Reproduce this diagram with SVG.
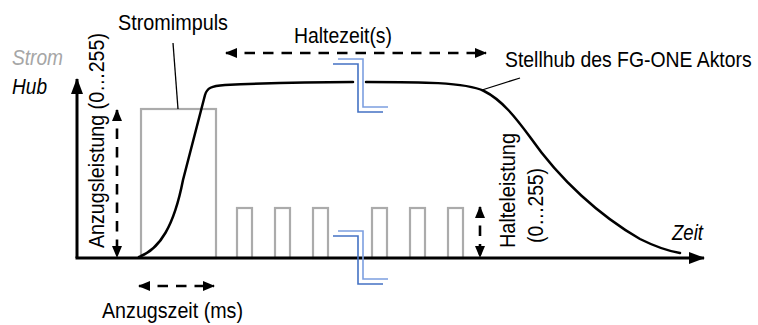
<svg xmlns="http://www.w3.org/2000/svg" width="758" height="325" viewBox="0 0 758 325">
<style>
text{font-family:"Liberation Sans",Arial,sans-serif;font-size:22px;fill:#000}
.it{font-style:italic}
.gray{fill:#a6a6a6}
.axis{stroke:#000;stroke-width:3;fill:none}
.curve{stroke:#000;stroke-width:2.5;fill:none;stroke-linecap:round}
.pulse{stroke:#ababab;stroke-width:2.2;fill:none}
.dash{stroke:#000;stroke-width:2.6;fill:none;stroke-dasharray:10.5 8}
.lead{stroke:#000;stroke-width:1.3;fill:none}
.brA{stroke:#7c9fe0;stroke-width:1.6;fill:none}
.brB{stroke:#4472c4;stroke-width:1.6;fill:none}
</style>
<defs>
<marker id="ah" viewBox="0 0 12 10" refX="11" refY="5" markerWidth="12" markerHeight="10" markerUnits="userSpaceOnUse" orient="auto-start-reverse">
<path d="M0,0 L12,5 L0,10 Z" fill="#000"/>
</marker>
<marker id="axh" viewBox="0 0 16 12" refX="15" refY="6" markerWidth="16" markerHeight="12" markerUnits="userSpaceOnUse" orient="auto">
<path d="M0,0 L16,6 L0,12 Z" fill="#000"/>
</marker>
</defs>
<rect width="758" height="325" fill="#fff"/>

<g id="pulses">
<rect class="pulse" x="141" y="109" width="75" height="149"/>
<rect class="pulse" x="237" y="208" width="15" height="50"/>
<rect class="pulse" x="275" y="208" width="15" height="50"/>
<rect class="pulse" x="313" y="208" width="15" height="50"/>
<rect class="pulse" x="372" y="208" width="15" height="50"/>
<rect class="pulse" x="410" y="208" width="15" height="50"/>
<rect class="pulse" x="448" y="208" width="15" height="50"/>
</g>

<g id="axes">
<path class="axis" d="M77,258 L77,79" marker-end="url(#axh)"/>
<path class="axis" d="M75.5,258 L704,258" marker-end="url(#axh)"/>
</g>

<g id="hub-curve">
<path class="curve" d="M139,257 C160,249 174,226 183,180 L205,95 C207,88 211,86 225,85 C270,83 320,82 353,82"/>
<path class="curve" d="M366,82 C420,82 465,82 484,91 C502,100 516,118 530,137 C560,180 600,216 640,239 C656,247 668,251 680,253"/>
</g>

<g id="connectors">
<path class="dash" d="M226,53 L486,53" marker-start="url(#ah)" marker-end="url(#ah)"/>
<path class="dash" d="M117,110 L117,257" marker-start="url(#ah)" marker-end="url(#ah)"/>
<path class="dash" d="M139,286 L214,286" marker-start="url(#ah)" marker-end="url(#ah)"/>
<path class="dash" d="M480,207 L480,257" stroke-dasharray="0 20 10 40" marker-start="url(#ah)" marker-end="url(#ah)"/>
<path class="lead" d="M173,43 L178,109"/>
<path class="lead" d="M482,90 L520,78"/>
</g>

<g id="breaks">
<path class="brA" d="M338,59 H363 V107 H388"/>
<path class="brB" d="M333,64 H358 V112 H383"/>
<path class="brA" d="M338,231 H363 V279 H388"/>
<path class="brB" d="M333,236 H358 V284 H383"/>
</g>

<g id="labels">
<text x="118" y="30" textLength="110" lengthAdjust="spacingAndGlyphs">Stromimpuls</text>
<text x="294" y="43" textLength="98" lengthAdjust="spacingAndGlyphs">Haltezeit(s)</text>
<text transform="translate(505,67) scale(1,1.1)" style="font-size:19.4px">Stellhub des FG-ONE Aktors</text>
<text class="it gray" x="12" y="65" textLength="51" lengthAdjust="spacingAndGlyphs">Strom</text>
<text class="it" x="12" y="94" textLength="35" lengthAdjust="spacingAndGlyphs">Hub</text>
<text class="it" x="672" y="240" textLength="31" lengthAdjust="spacingAndGlyphs">Zeit</text>
<text x="102" y="318" textLength="141" lengthAdjust="spacingAndGlyphs">Anzugszeit (ms)</text>
<text transform="translate(104,248) rotate(-90)" textLength="215" lengthAdjust="spacingAndGlyphs">Anzugsleistung (0…255)</text>
<text transform="translate(515,248) rotate(-90)" textLength="115" lengthAdjust="spacingAndGlyphs">Halteleistung</text>
<text transform="translate(543,243) rotate(-90)" textLength="75" lengthAdjust="spacingAndGlyphs">(0…255)</text>
</g>
</svg>
